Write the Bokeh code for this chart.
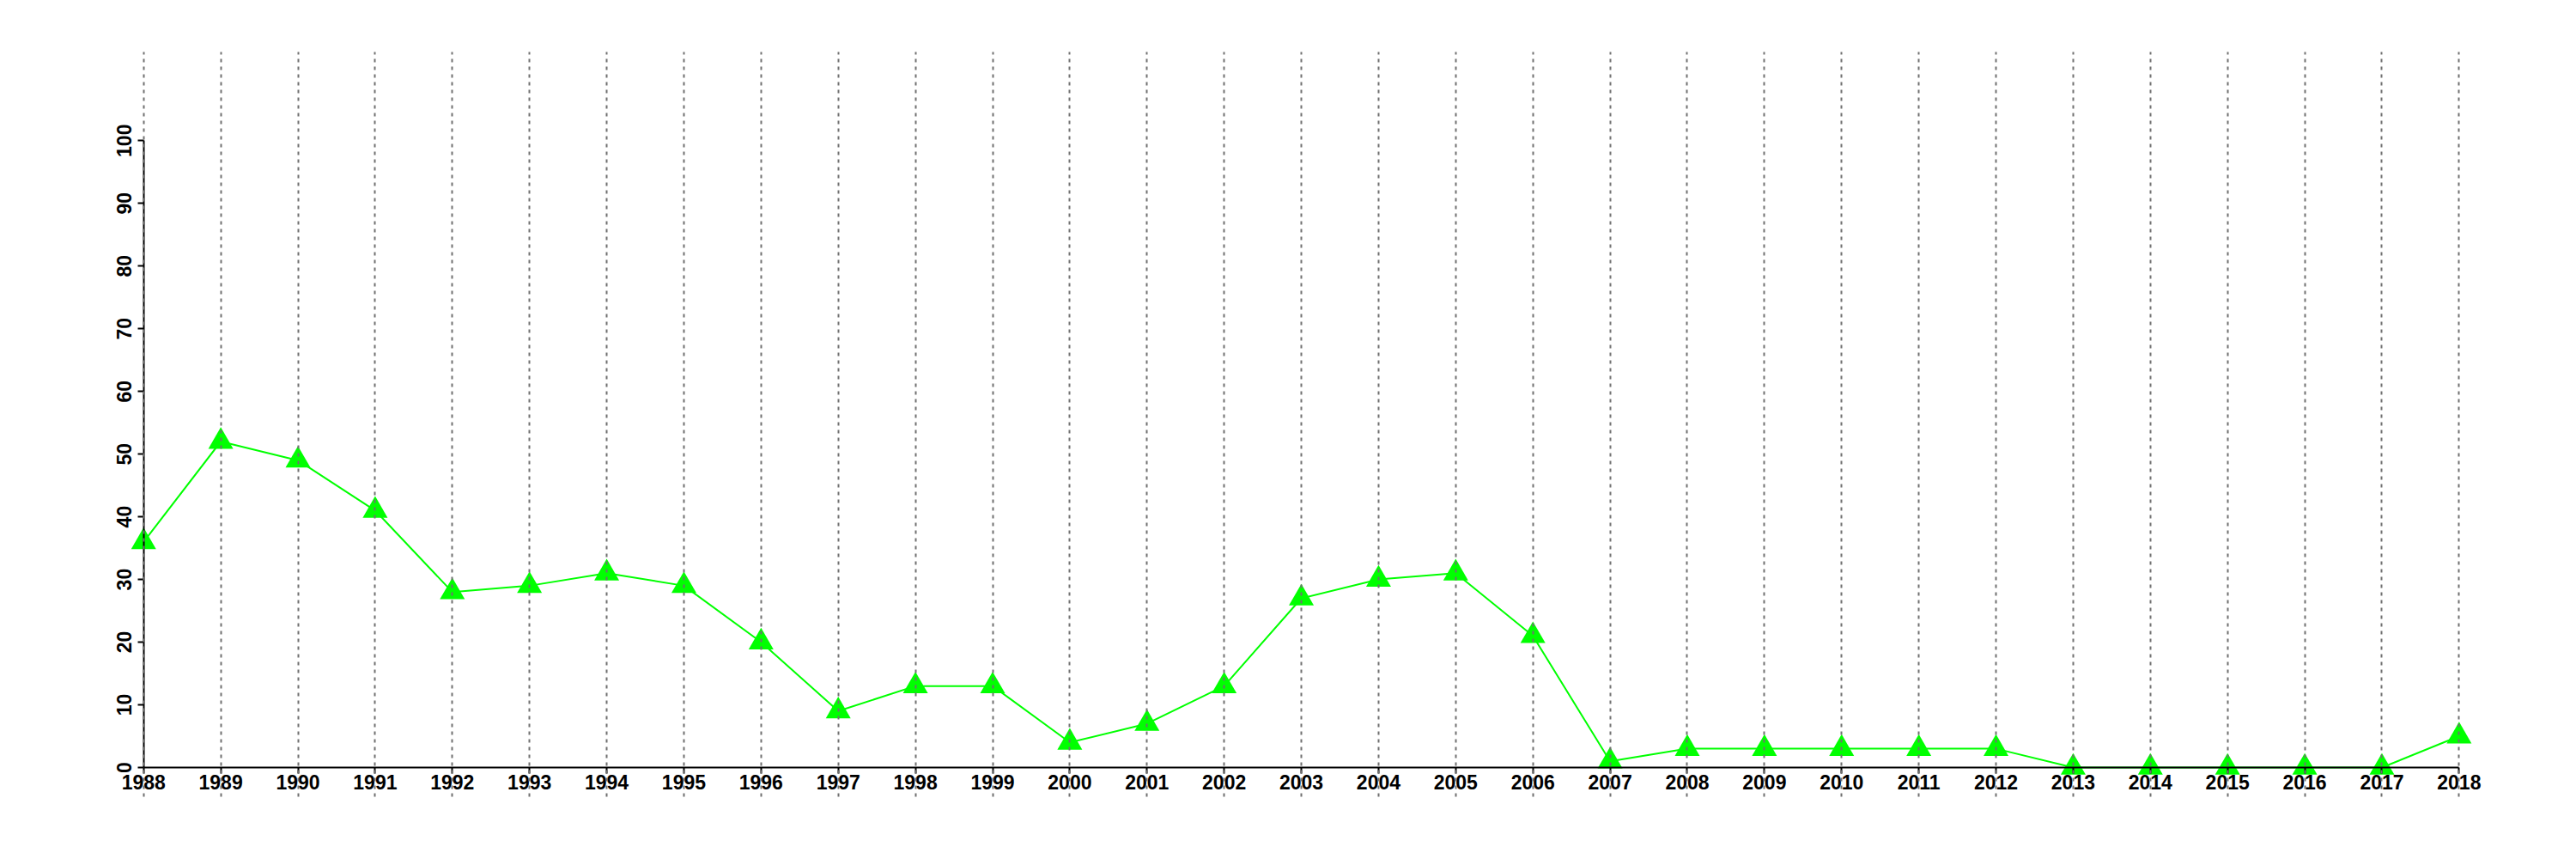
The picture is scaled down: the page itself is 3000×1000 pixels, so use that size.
from bokeh.plotting import figure
from bokeh.models import Range1d, FixedTicker, ColumnDataSource
from bokeh.embed import file_html
from bokeh.resources import INLINE

years = list(range(1988, 2019))
values = [36, 52, 49, 41, 28, 29, 31, 29, 20, 9, 13, 13, 4, 7, 13, 27, 30, 31, 21,
          1, 3, 3, 3, 3, 3, 0, 0, 0, 0, 0, 5]
y_ticks = [0, 10, 20, 30, 40, 50, 60, 70, 80, 90, 100]

src = ColumnDataSource(dict(x=years, y=values))

p = figure(width=2984, height=984, output_backend="svg", toolbar_location=None,
           x_range=Range1d(1987.48, 2018.53), y_range=Range1d(-4.66, 114.15),
           min_border_left=120, min_border_right=73, min_border_top=60,
           min_border_bottom=57)
p.outline_line_color = None
p.background_fill_color = "white"
p.border_fill_color = "white"

p.line("x", "y", source=src, line_color="#00FF00", line_width=2)
p.scatter("x", "y", source=src, marker="triangle", size=29,
          fill_color="#00FF00", line_color="#00FF00", line_width=0)

for ax in (p.xaxis[0], p.yaxis[0]):
    ax.axis_line_width = 2
    ax.axis_line_color = "black"
    ax.major_tick_line_width = 2
    ax.major_tick_line_color = "black"
    ax.major_tick_in = 0
    ax.major_tick_out = 7
    ax.minor_tick_line_color = None
    ax.major_label_text_font = "Liberation Sans"
    ax.major_label_text_font_style = "bold"
    ax.major_label_text_font_size = "23px"
    ax.major_label_text_color = "black"

p.xaxis[0].ticker = FixedTicker(ticks=years)
p.xaxis[0].bounds = (1988, 2018)
p.xaxis[0].fixed_location = 0
p.xaxis[0].major_label_standoff = 2

p.yaxis[0].ticker = FixedTicker(ticks=y_ticks)
p.yaxis[0].bounds = (0, 100)
p.yaxis[0].fixed_location = 1988
p.yaxis[0].major_label_orientation = "vertical"
p.yaxis[0].major_label_standoff = 7

p.ygrid.visible = False
p.xgrid.ticker = FixedTicker(ticks=years)
p.xgrid.grid_line_color = "#707070"
p.xgrid.grid_line_width = 2
p.xgrid.grid_line_dash = "4 5"
p.xgrid.level = "overlay"

open("out.html", "w").write(file_html(p, INLINE))
